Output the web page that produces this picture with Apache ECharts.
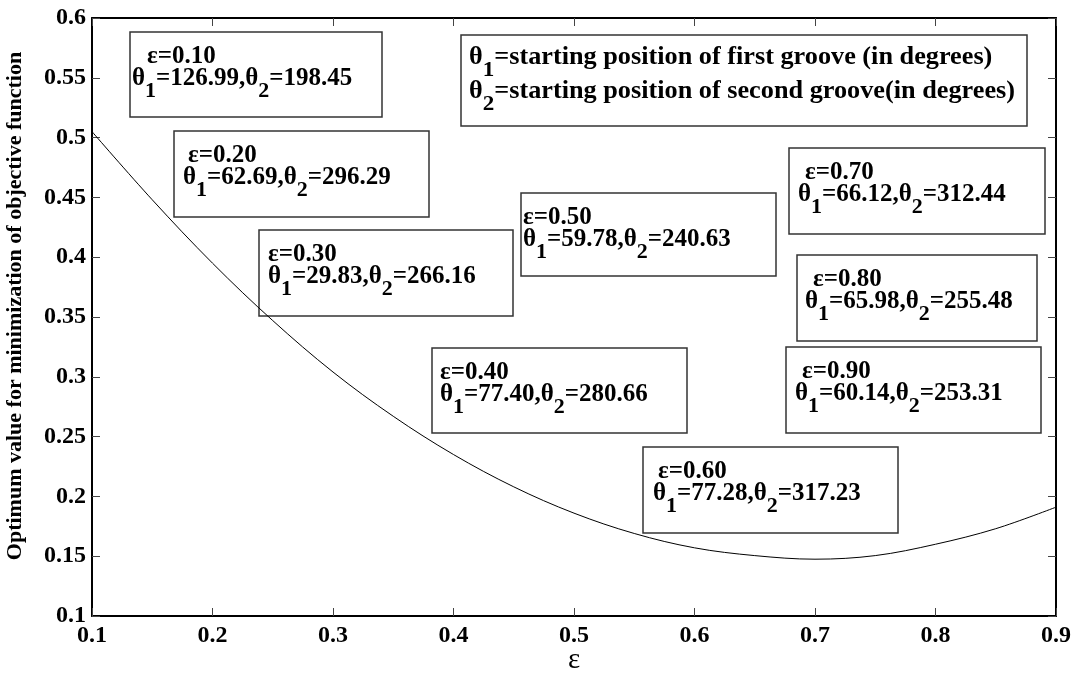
<!DOCTYPE html>
<html>
<head>
<meta charset="utf-8">
<script src="https://cdn.jsdelivr.net/npm/echarts@6/dist/echarts.min.js"></script>
<style>
  html, body { margin: 0; padding: 0; background: #fff; }
  #chart { width: 1078px; height: 676px; }
</style>
</head>
<body>
<div id="chart"></div>
<script>
// curve: optimum objective value vs eccentricity ratio
var epsilonX = [0.10, 0.15, 0.20, 0.25, 0.30, 0.35, 0.40, 0.45, 0.50, 0.55, 0.60, 0.65, 0.70, 0.75, 0.80, 0.85, 0.90];
var objectiveY = [0.505, 0.448, 0.395, 0.347, 0.304, 0.267, 0.235, 0.208, 0.186, 0.169, 0.157, 0.1505, 0.1475, 0.1505, 0.160, 0.173, 0.191];

// annotation contents
var boxEps = ['0.10', '0.20', '0.30', '0.40', '0.50', '0.60', '0.70', '0.80', '0.90'];
var boxTheta1 = ['126.99', '62.69', '29.83', '77.40', '59.78', '77.28', '66.12', '65.98', '60.14'];
var boxTheta2 = ['198.45', '296.29', '266.16', '280.66', '240.63', '317.23', '312.44', '255.48', '253.31'];
var noteLines = ['=starting position of first groove (in degrees)', '=starting position of second groove(in degrees)'];

// box placement: left, top, width, height, dx of eps line, dx of theta line
var boxLayout = [
  [130, 32, 252, 85, 17, 2],
  [174, 131, 255, 86, 14, 9],
  [259, 230, 254, 86, 9, 9],
  [432, 348, 255, 85, 8, 8],
  [521, 193, 255, 83, 2, 2],
  [643, 447, 255, 86, 15, 10],
  [789, 148, 256, 86, 16, 9],
  [797, 255, 240, 86, 16, 8],
  [786, 347, 255, 86, 16, 9]
];
var noteLayout = [461, 35, 566, 91, 8];

var FONT = 'Liberation Serif';
var rich = {
  t: { fontSize: 25, fontWeight: 'bold', fontFamily: FONT, verticalAlign: 'top', lineHeight: 25 },
  s: { fontSize: 22, fontWeight: 'bold', fontFamily: FONT, verticalAlign: 'top', padding: [14, 0, 0, 0], lineHeight: 36 }
};

function thetaText(i, rest) {
  return '{t|θ}{s|' + i + '}{t|' + rest + '}';
}

var graphics = [];
boxLayout.forEach(function (b, k) {
  graphics.push({
    type: 'group', x: b[0], y: b[1],
    children: [
      { type: 'rect', shape: { x: 0, y: 0, width: b[2], height: b[3] },
        style: { fill: null, stroke: '#333', lineWidth: 1.5 } },
      { type: 'text', x: b[4], y: 25,
        style: { text: 'ε=' + boxEps[k], fill: '#000', fontSize: 25, fontWeight: 'bold', fontFamily: FONT, verticalAlign: 'middle' } },
      { type: 'text', x: b[5], y: 34,
        style: { text: thetaText(1, '=' + boxTheta1[k] + ',θ') + '{s|2}{t|=' + boxTheta2[k] + '}', fill: '#000', verticalAlign: 'top', rich: rich } }
    ]
  });
});
graphics.push({
  type: 'group', x: noteLayout[0], y: noteLayout[1],
  children: [
    { type: 'rect', shape: { x: 0, y: 0, width: noteLayout[2], height: noteLayout[3] },
      style: { fill: null, stroke: '#333', lineWidth: 1.5 } },
    { type: 'text', x: noteLayout[4], y: 10, scaleX: 1.05,
      style: { text: thetaText(1, noteLines[0]), fill: '#000', verticalAlign: 'top', rich: rich } },
    { type: 'text', x: noteLayout[4], y: 44, scaleX: 1.05,
      style: { text: thetaText(2, noteLines[1]), fill: '#000', verticalAlign: 'top', rich: rich } }
  ]
});

var axisLine = { show: true, onZero: false, lineStyle: { color: '#000', width: 2 } };
var axisTick = { show: true, inside: true, length: 8, lineStyle: { color: '#444', width: 1 } };
var tickFont = { color: '#000', fontSize: 24, fontWeight: 'bold', fontFamily: FONT };

var myChart = echarts.init(document.getElementById('chart'));
var option = {
  animation: false,
  backgroundColor: '#fff',
  grid: { left: 92, top: 18, right: 22, bottom: 60, containLabel: false, outerBoundsMode: 'none' },
  xAxis: [
    { type: 'value', min: 0.1, max: 0.9, interval: 0.1, position: 'bottom',
      name: 'ε', nameLocation: 'middle', nameGap: 30, nameMoveOverlap: false,
      nameTextStyle: { color: '#000', fontSize: 29, fontFamily: FONT },
      axisLine: axisLine, axisTick: axisTick, splitLine: { show: false },
      axisLabel: Object.assign({ margin: 8 }, tickFont) },
    { type: 'value', min: 0.1, max: 0.9, interval: 0.1, position: 'top',
      axisLine: axisLine, axisTick: axisTick, splitLine: { show: false }, axisLabel: { show: false } }
  ],
  yAxis: [
    { type: 'value', min: 0.1, max: 0.6, interval: 0.05, position: 'left',
      name: 'Optimum value for minimization of objective function', nameLocation: 'middle', nameGap: 66,
      nameTextStyle: { color: '#000', fontSize: 22, fontWeight: 'bold', fontFamily: FONT, padding: [0, 0, 0, 22] },
      axisLine: axisLine, axisTick: axisTick, splitLine: { show: false },
      axisLabel: Object.assign({ margin: 6 }, tickFont) },
    { type: 'value', min: 0.1, max: 0.6, interval: 0.05, position: 'right',
      axisLine: axisLine, axisTick: axisTick, splitLine: { show: false }, axisLabel: { show: false } }
  ],
  series: [{
    type: 'line',
    data: epsilonX.map(function (x, i) { return [x, objectiveY[i]]; }),
    smooth: 0.35,
    showSymbol: false,
    lineStyle: { color: '#000', width: 1 },
    z: 3
  }],
  graphic: graphics
};
myChart.setOption(option);
</script>
</body>
</html>
